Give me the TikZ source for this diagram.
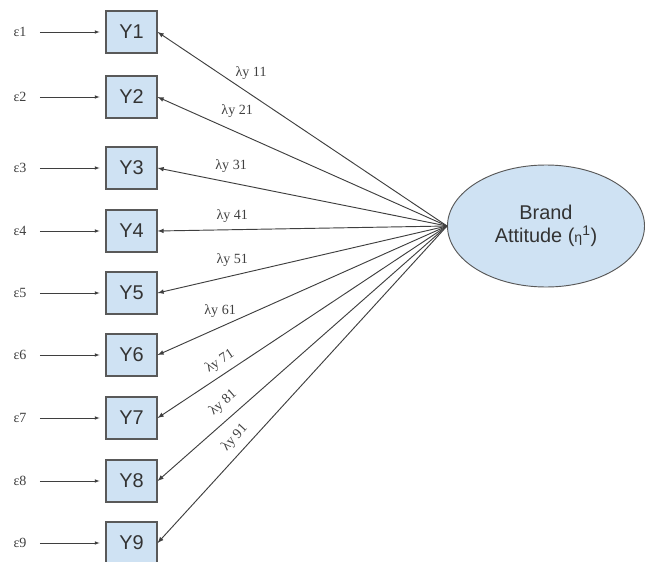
\documentclass[tikz,border=0pt]{standalone}
\usepackage{fontspec}
\setmainfont{Liberation Sans}
\newfontfamily\lamfont{Liberation Serif}
\usetikzlibrary{shapes.geometric}
\definecolor{boxblue}{HTML}{CFE2F3}
\definecolor{edgegray}{HTML}{595959}
\definecolor{linegray}{HTML}{3F3F3F}
\tikzset{
  obs/.style={draw=edgegray, fill=boxblue, line width=1pt, minimum width=1.53cm, minimum height=1.26cm, inner sep=0pt, font=\fontsize{17}{20}\selectfont, text=black!80},
  err/.style={font=\lamfont\fontsize{12}{14}\selectfont, text=black!75},
  lat/.style={ellipse, draw=edgegray, fill=boxblue, line width=0.8pt, minimum width=5.91cm, minimum height=3.66cm, align=center, font=\fontsize{17}{20}\selectfont, text=black!80},
  lab/.style={font=\lamfont\fontsize{12}{14}\selectfont, text=black!75},
  load/.style={->, >=latex, linegray, line width=0.8pt},
}
\begin{document}
\begin{tikzpicture}[x=0.03cm, y=-0.03cm]
\useasboundingbox (0,0) rectangle (647,561);

% Latent variable
\node[lat] (eta) at (546,226) {Brand\\Attitude ({\fontsize{12}{12}\selectfont η}\textsuperscript{1})};

% Indicators and errors
\foreach \i/\yy in {1/32, 2/97, 3/168, 4/231, 5/293, 6/355, 7/418, 8/481, 9/543}
{
  \node[obs] (Y\i) at (131.5,\yy) {Y\i};
  \node[err] (e\i) at (20,\yy) {ε\i};
  \draw[->, >=latex, linegray, shorten <=8pt, shorten >=5pt] (e\i) -- (Y\i);
}

% Loadings
\foreach \i/\p/\d in {1/0.677/18.8pt, 2/0.725/18.5pt, 3/0.746/14pt, 4/0.742/12pt, 5/0.742/13.6pt, 6/0.784/13.6pt}
  \draw[load] (eta.west) -- (Y\i.east) node[lab, pos=\p, yshift=\d] {λy \i1};
\foreach \i/\p/\d in {7/0.76/1.7pt, 8/0.739/3.8pt, 9/0.698/2.5pt}
  \draw[load] (eta.west) -- (Y\i.east) node[lab, sloped, pos=\p, above=\d] {λy \i1};
\end{tikzpicture}
\end{document}
